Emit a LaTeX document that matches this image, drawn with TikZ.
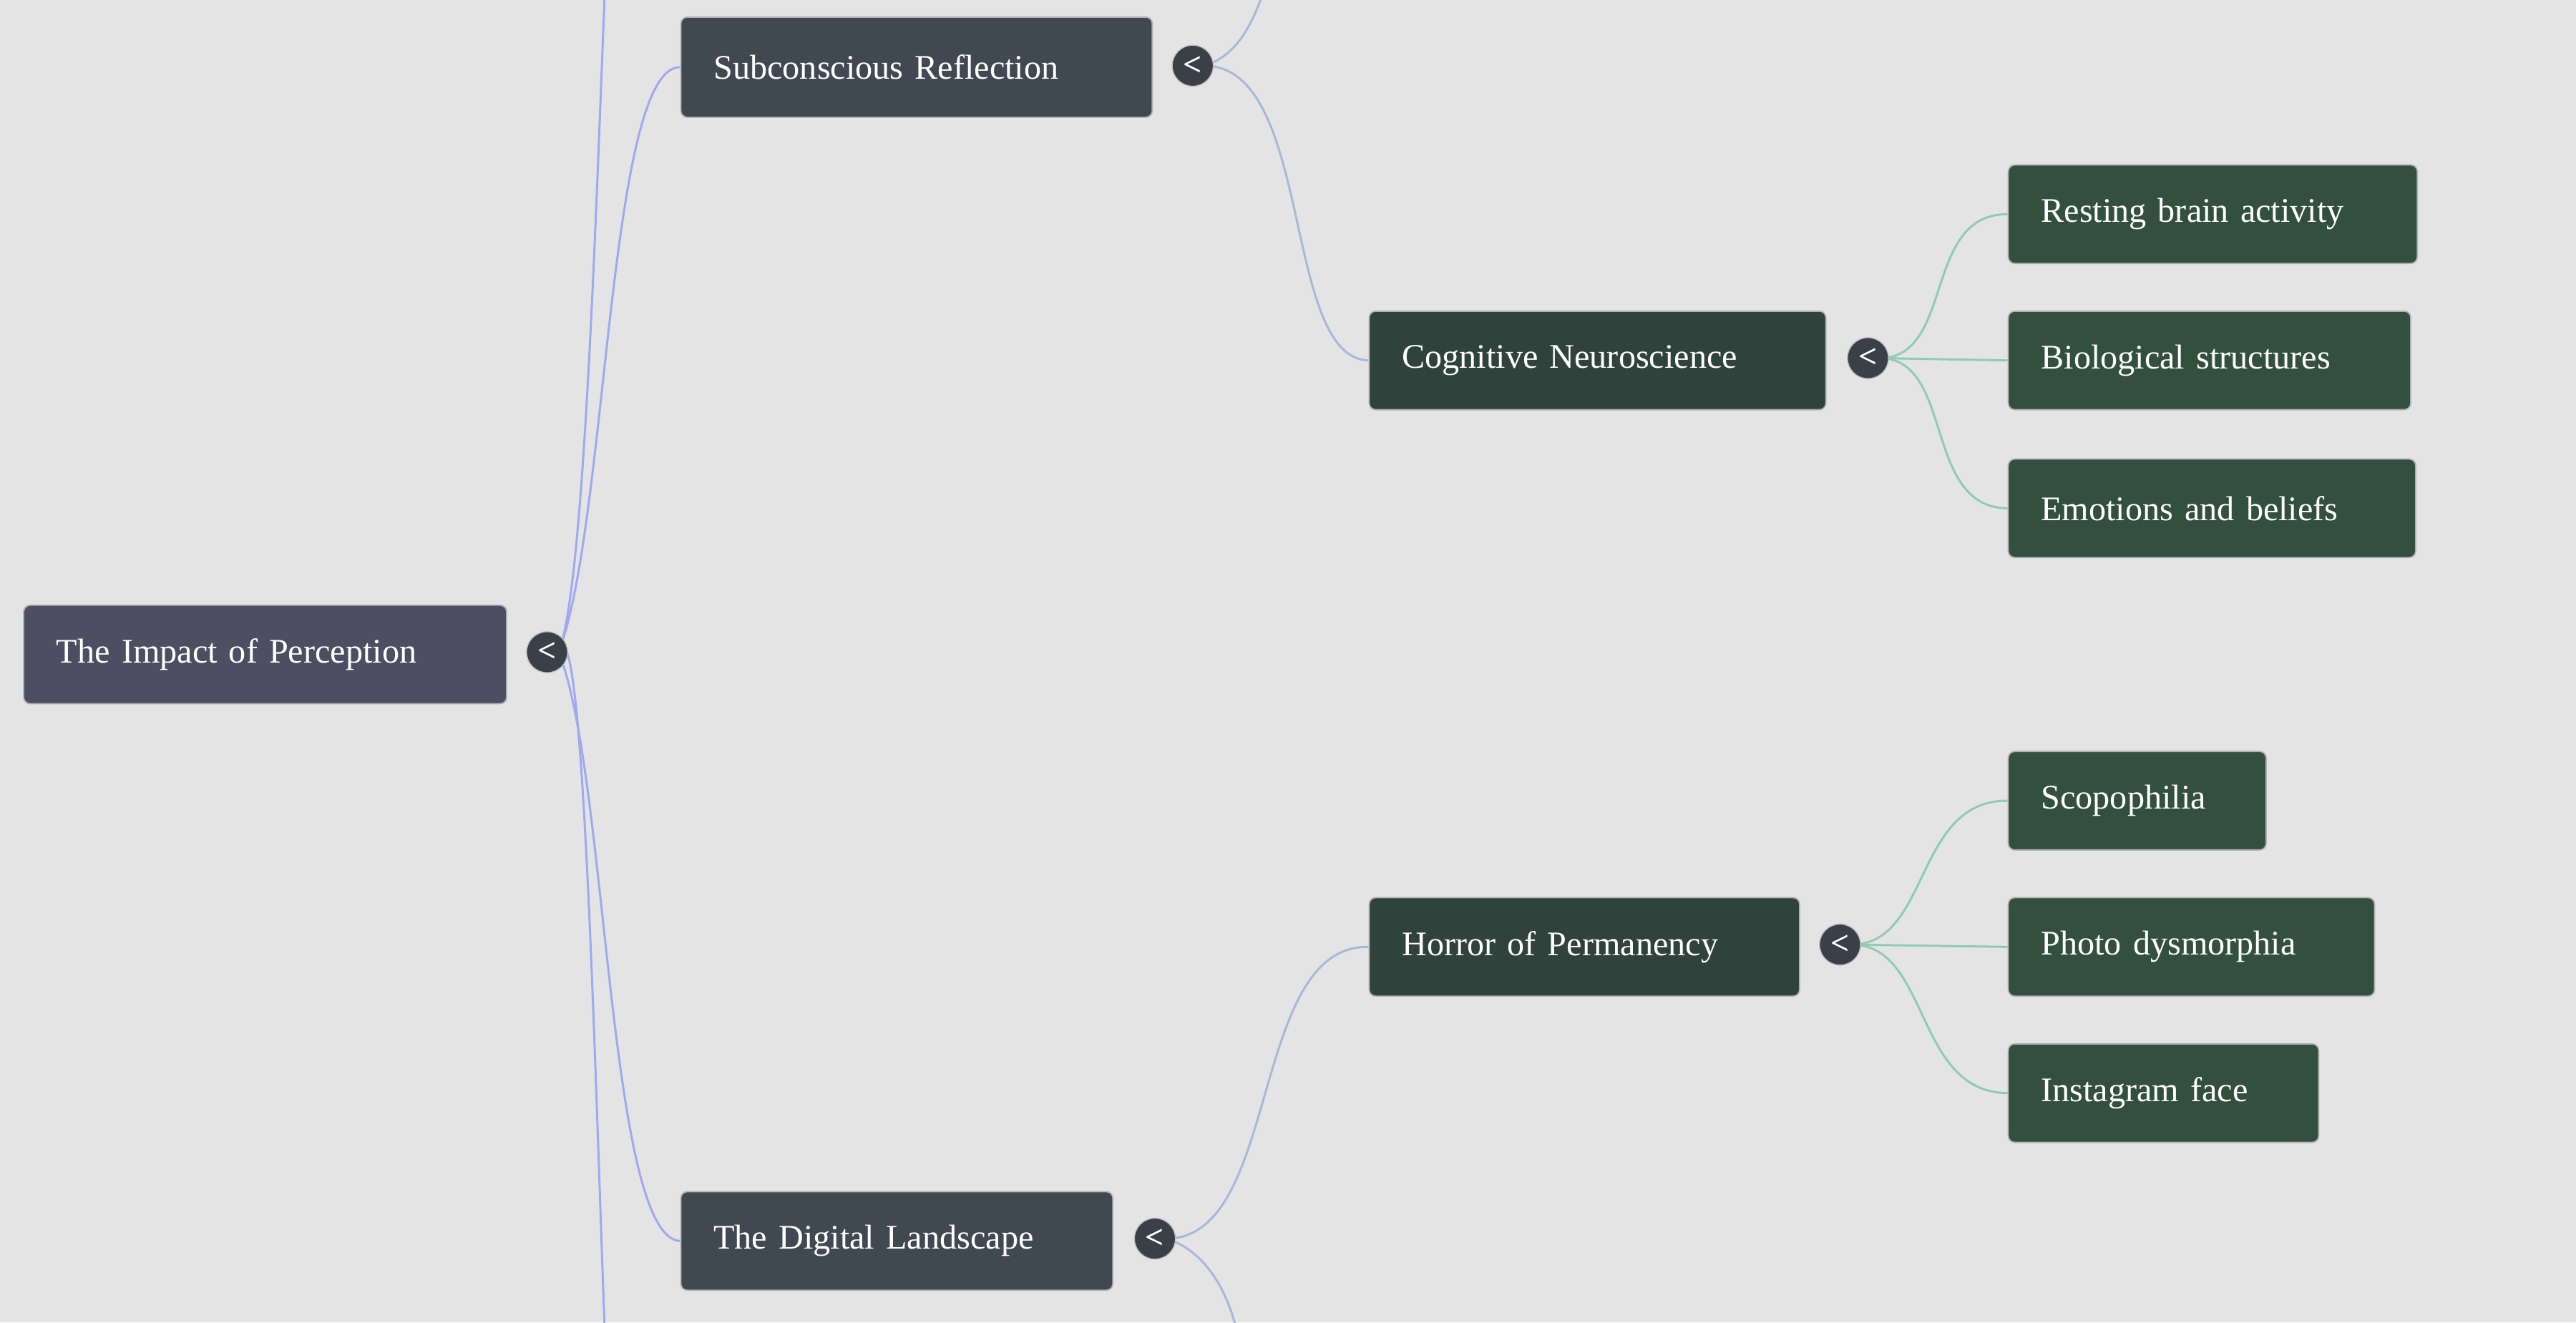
\documentclass[tikz,border=0pt]{standalone}
\usepackage{fontspec}
\setmainfont{Liberation Serif}
\begin{document}
\begin{tikzpicture}[x=1pt,y=-1pt,
  box/.style={rounded corners=4pt, draw=gray!60, line width=0.8pt, text=white, font=\fontsize{21}{25}\selectfont, anchor=north west, inner xsep=20pt, inner ysep=0pt, align=left},
  tog/.style={circle, fill=togc, draw=gray!50, line width=0.6pt, text=white, minimum size=25pt, inner sep=0pt, font=\fontsize{20}{20}\selectfont\bfseries},
  e1/.style={draw=edgeA, line width=1.3pt},
  e2/.style={draw=edgeB, line width=1.3pt},
  e3/.style={draw=edgeC, line width=1.3pt}]
\definecolor{bg}{HTML}{E4E4E4}
\definecolor{rootc}{HTML}{4E4E62}
\definecolor{secc}{HTML}{404852}
\definecolor{thc}{HTML}{30423C}
\definecolor{leafc}{HTML}{33503F}
\definecolor{togc}{HTML}{3A4048}
\definecolor{edgeA}{HTML}{A0A8F0}
\definecolor{edgeB}{HTML}{A8B8D8}
\definecolor{edgeC}{HTML}{8FCBB5}
\fill[bg] (0,0) rectangle (1568,805);
\useasboundingbox (0,0) rectangle (1568,805);
% nodes
\node[box, fill=rootc, minimum width=294pt, minimum height=60pt, text width=254pt] (root) at (14,368) {The Impact of Perception};
\node[box, fill=secc, minimum width=287pt, minimum height=61pt, text width=247pt] (sub) at (414,10) {Subconscious Reflection};
\node[box, fill=secc, minimum width=263pt, minimum height=60pt, text width=223pt] (dig) at (414,725) {The Digital Landscape};
\node[box, fill=thc, minimum width=278pt, minimum height=60pt, text width=238pt] (cog) at (833,189) {Cognitive Neuroscience};
\node[box, fill=thc, minimum width=262pt, minimum height=60pt, text width=222pt] (hor) at (833,546) {Horror of Permanency};
\node[box, fill=leafc, minimum width=249pt, minimum height=60pt, text width=209pt] (l1) at (1222,100) {Resting brain activity};
\node[box, fill=leafc, minimum width=245pt, minimum height=60pt, text width=205pt] (l2) at (1222,189) {Biological structures};
\node[box, fill=leafc, minimum width=248pt, minimum height=60pt, text width=208pt] (l3) at (1222,279) {Emotions and beliefs};
\node[box, fill=leafc, minimum width=157pt, minimum height=60pt, text width=117pt] (l4) at (1222,457) {Scopophilia};
\node[box, fill=leafc, minimum width=223pt, minimum height=60pt, text width=183pt] (l5) at (1222,546) {Photo dysmorphia};
\node[box, fill=leafc, minimum width=189pt, minimum height=60pt, text width=149pt] (l6) at (1222,635) {Instagram face};
\coordinate (offA) at (368,-2);
\coordinate (offB) at (368,807);
\coordinate (offC) at (768,-2);
\coordinate (offD) at (752,807);
% edges
\draw[e1] (340,397) .. controls (355,360) and (362,150) .. (offA);
\draw[e1] (340,397) .. controls (355,360) and (362,650) .. (offB);
\draw[e1] (340,397) .. controls (370,320) and (370,40) .. (sub.west);
\draw[e1] (340,397) .. controls (370,470) and (370,754) .. (dig.west);
\draw[e2] (733,40) .. controls (750,35) and (760,20) .. (offC);
\draw[e2] (733,40) .. controls (800,40) and (780,218) .. (cog.west);
\draw[e2] (710,754) .. controls (780,754) and (760,575) .. (hor.west);
\draw[e2] (710,754) .. controls (730,760) and (745,780) .. (offD);
\draw[e3] (1144,218) .. controls (1190,218) and (1170,130) .. (l1.west);
\draw[e3] (1144,218) -- (l2.west);
\draw[e3] (1144,218) .. controls (1190,218) and (1170,309) .. (l3.west);
\draw[e3] (1127,575) .. controls (1175,575) and (1165,487) .. (l4.west);
\draw[e3] (1127,575) -- (l5.west);
\draw[e3] (1127,575) .. controls (1175,575) and (1165,665) .. (l6.west);
% toggles
\node[tog] (t0) at (333,397) {<};
\node[tog] (t1) at (726,40) {<};
\node[tog] (t2) at (703,754) {<};
\node[tog] (t3) at (1137,218) {<};
\node[tog] (t4) at (1120,575) {<};
\end{tikzpicture}
\end{document}
